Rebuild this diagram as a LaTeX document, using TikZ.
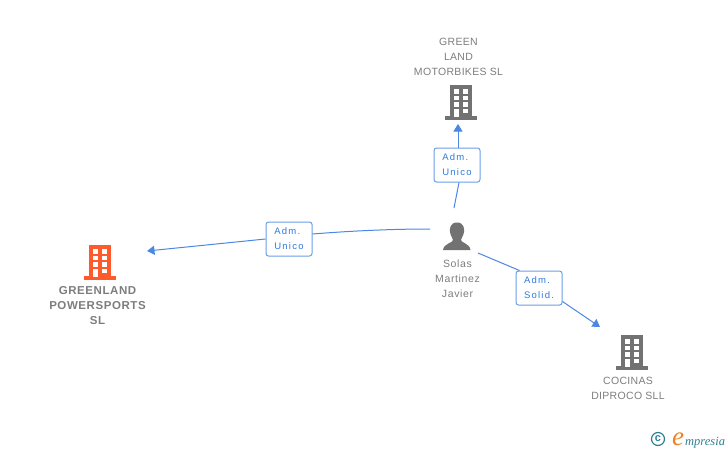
\documentclass[tikz,border=0pt]{standalone}
\usepackage{fontspec}
\usetikzlibrary{arrows.meta}
\setmainfont{Liberation Sans}
\definecolor{edgeblue}{HTML}{4A88E2}
\definecolor{boxblue}{HTML}{6A9EE8}
\definecolor{labblue}{HTML}{2F7BE0}
\definecolor{icongrey}{HTML}{727272}
\definecolor{txtgrey}{HTML}{7D7D7D}
\definecolor{orangeb}{HTML}{FF5A2C}
\definecolor{teallogo}{HTML}{2F7F93}
\definecolor{orangelogo}{HTML}{F08020}
\newfontfamily\spacedfont[LetterSpace=13]{Liberation Sans}
\newfontfamily\spacedtext[LetterSpace=3]{Liberation Sans}
\newfontfamily\spacedname[LetterSpace=6]{Liberation Sans}
\newfontfamily\spacedbold[LetterSpace=5]{Liberation Sans Bold}
\newfontfamily\logofont{Liberation Serif}
\tikzset{
 x=1pt,y=-1pt,
 rel/.style={draw=boxblue,line width=1pt,rounded corners=2.5pt,fill=white,minimum width=46pt,minimum height=34pt,inner sep=0pt,align=left,text=labblue,font=\fontsize{9.5}{15}\spacedfont},
 conn/.style={draw=edgeblue,line width=1pt},
 arr/.style={conn,-{Triangle[length=7.5pt,width=9pt]}},
 lab/.style={align=center,inner sep=0pt,text=txtgrey,font=\fontsize{10.5}{15}\spacedtext},
 labn/.style={align=center,inner sep=0pt,text=txtgrey,font=\fontsize{10.5}{15}\spacedname},
 labb/.style={align=center,inner sep=0pt,text=txtgrey,font=\fontsize{11.5}{15}\spacedbold},
 pics/bldg/.style={code={
  \fill[#1] (-11,-17) rectangle (11,15);
  \fill[#1] (-16,14) rectangle (16,17.5);
  \foreach \yy in {-13,-6.5,0}{
   \fill[white] (-7,\yy) rectangle (-2,\yy+4.5);
   \fill[white] (2,\yy) rectangle (7,\yy+4.5);}
  \fill[white] (-7,6.5) rectangle (-2,15);
  \fill[white] (2,6.5) rectangle (7,11);
 }}
}
\begin{document}
\begin{tikzpicture}
\useasboundingbox (0,0) rectangle (728,450);
% buildings
\pic at (461,102) {bldg=icongrey};
\pic at (100,262) {bldg=orangeb};
\pic at (632,352) {bldg=icongrey};
% person
\fill[icongrey] (457,222.5) .. controls (450,222.5) and (449.5,229) .. (450,232)
 .. controls (450.5,236) and (453,238) .. (453,240)
 .. controls (453,243) and (444,243) .. (443,250) -- (470.5,250)
 .. controls (469.5,243) and (461,243) .. (461,240)
 .. controls (461,238) and (463.5,236) .. (464,232)
 .. controls (464.5,229) and (464,222.5) .. (457,222.5) -- cycle;
% label nodes
\node[rel] (r1) at (457,165) {Adm.\\Unico};
\node[rel] (r2) at (289,239) {Adm.\\Unico};
\node[rel] (r3) at (539,288) {Adm.\\Solid.};
% free ends
\coordinate (s1) at (454,208);
\coordinate (t1) at (458,124);
\coordinate (s2) at (430,229);
\coordinate (t2) at (147,251);
\coordinate (s3) at (478,253);
\coordinate (t3) at (600,327);
% connectors
\draw[conn] (s1) -- ([xshift=2pt]r1.south);
\draw[arr] ([xshift=1pt]r1.north) -- (t1);
\draw[conn] (s2) .. controls (390,229) and (350,231) .. ([yshift=5pt]r2.east);
\draw[arr] (r2.west) -- (t2);
\draw[conn] (s3) -- ([xshift=4pt]r3.north west);
\draw[arr] ([yshift=4pt]r3.south east) -- (t3);
% texts
\node[lab] (n1) at (458.5,56.5) {GREEN\\LAND\\MOTORBIKES SL};
\node[labb] (n2) at (97.5,306) {GREENLAND\\POWERSPORTS\\SL};
\node[labn] (n3) at (457.5,279) {Solas\\Martinez\\Javier};
\node[lab] (n4) at (628,388.5) {COCINAS\\DIPROCO SLL};
% logo
\node[circle,draw=teallogo,line width=1.2pt,minimum size=13pt,inner sep=0pt,text=teallogo,font=\fontsize{11}{11}\selectfont\bfseries] (c) at (658,439) {c};
\node[inner sep=0pt,anchor=base west,text=orangelogo,font=\fontsize{27}{27}\logofont\itshape] (e) at (672,445) {e};
\node[inner sep=0pt,anchor=base west,text=teallogo,font=\fontsize{12.5}{12.5}\logofont\itshape] (m) at (685,445) {mpresia};
\end{tikzpicture}
\end{document}
